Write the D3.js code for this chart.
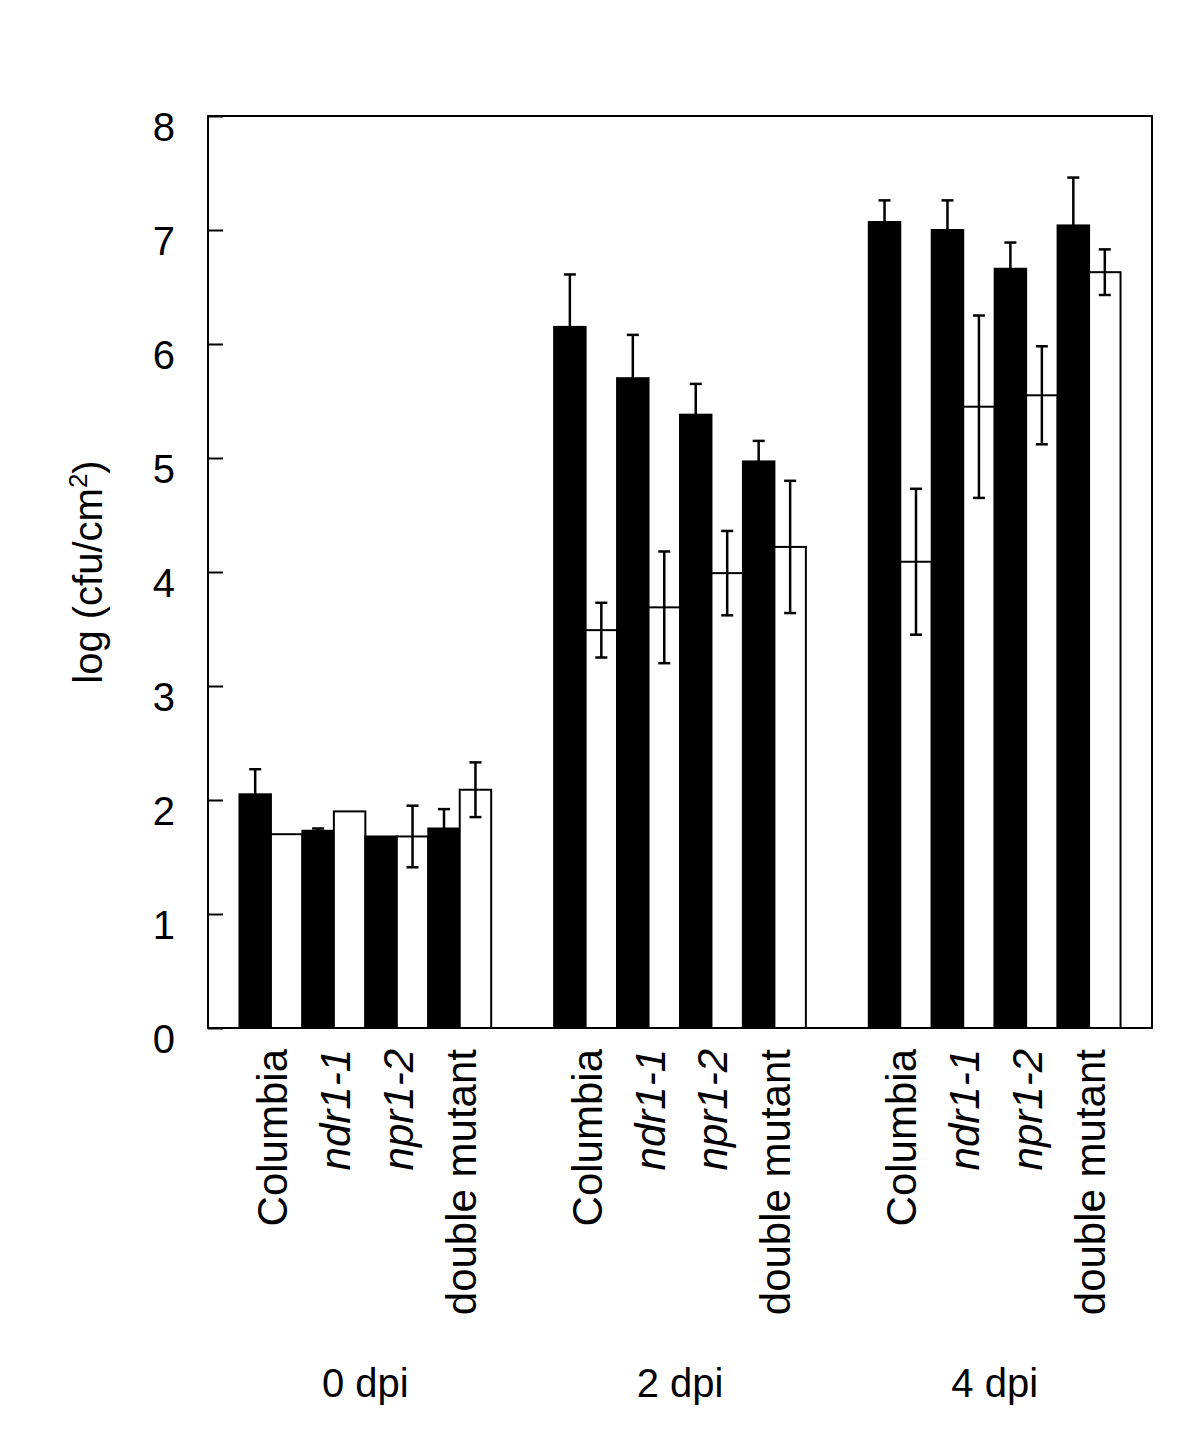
<!DOCTYPE html>
<html>
<head>
<meta charset="utf-8">
<script src="https://cdn.jsdelivr.net/npm/d3@7"></script>
<style>
  body { margin: 0; background: #fff; }
  text { font-family: "Liberation Sans", Arial, sans-serif; fill: #000; }
</style>
</head>
<body>
<div id="chart"></div>
<script>
// data
var times = ["0 dpi", "2 dpi", "4 dpi"];
var genotypes = ["Columbia", "ndr1-1", "npr1-2", "double mutant"];
var italicNames = ["ndr1-1", "npr1-2"];
// filled bars
var blackMeans = [[2.05, 1.73, 1.68, 1.75], [6.15, 5.70, 5.38, 4.97], [7.07, 7.00, 6.66, 7.04]];
var blackErr   = [[0.22, 0.02, 0.00, 0.17], [0.46, 0.38, 0.27, 0.18], [0.19, 0.26, 0.23, 0.42]];
// open bars
var whiteMeans = [[1.70, 1.90, 1.68, 2.09], [3.49, 3.69, 3.99, 4.22], [4.09, 5.45, 5.55, 6.63]];
var whiteErr   = [[0.00, 0.00, 0.27, 0.24], [0.24, 0.49, 0.37, 0.58], [0.64, 0.80, 0.43, 0.20]];
var yTicks = [0, 1, 2, 3, 4, 5, 6, 7, 8];

var W = 1197, H = 1456;
var margin = {top: 116, right: 45, bottom: 428, left: 208},
    w = W - margin.left - margin.right,
    h = H - margin.top - margin.bottom;

var svg = d3.select("#chart").append("svg")
  .attr("width", W)
  .attr("height", H);
var g = svg.append("g").attr("transform", "translate(" + margin.left + "," + margin.top + ")");

var x0 = d3.scaleBand().domain(times).range([0, w]).padding(0);
var barKeys = [];
genotypes.forEach(function(gt) { barKeys.push(gt + "|b"); barKeys.push(gt + "|w"); });
var x1 = d3.scaleBand().domain(barKeys).range([0, x0.bandwidth()])
  .paddingInner(0).paddingOuter(1);
var y = d3.scaleLinear().domain([0, 8]).range([h, 0]);

// flatten into rows
var rows = [];
times.forEach(function(t, ti) {
  genotypes.forEach(function(gt, gi) {
    rows.push({t: t, key: gt + "|b", v: blackMeans[ti][gi], e: blackErr[ti][gi], fill: "#000"});
    rows.push({t: t, key: gt + "|w", v: whiteMeans[ti][gi], e: whiteErr[ti][gi], fill: "#fff"});
  });
});

g.selectAll("rect.bar")
  .data(rows)
  .enter()
  .append("rect")
  .attr("class", "bar")
  .attr("x", function(d) { return x0(d.t) + x1(d.key); })
  .attr("y", function(d) { return y(d.v); })
  .attr("width", x1.bandwidth())
  .attr("height", function(d) { return y(0) - y(d.v); })
  .attr("fill", function(d) { return d.fill; })
  .attr("stroke", "#000")
  .attr("stroke-width", 2);

// error bars
var capW = 6;
var eb = g.selectAll("g.err")
  .data(rows.filter(function(d) { return d.e > 0; }))
  .enter()
  .append("g")
  .attr("class", "err")
  .attr("stroke", "#000")
  .attr("stroke-width", 2.5);
function cx(d) { return x0(d.t) + x1(d.key) + x1.bandwidth() / 2; }
eb.append("line")
  .attr("x1", cx).attr("x2", cx)
  .attr("y1", function(d) { return y(d.v - d.e); })
  .attr("y2", function(d) { return y(d.v + d.e); });
eb.append("line")
  .attr("x1", function(d) { return cx(d) - capW; })
  .attr("x2", function(d) { return cx(d) + capW; })
  .attr("y1", function(d) { return y(d.v + d.e); })
  .attr("y2", function(d) { return y(d.v + d.e); });
eb.append("line")
  .attr("x1", function(d) { return cx(d) - capW; })
  .attr("x2", function(d) { return cx(d) + capW; })
  .attr("y1", function(d) { return y(d.v - d.e); })
  .attr("y2", function(d) { return y(d.v - d.e); });

// y axis, ticks pointing inward
var yAxis = g.append("g")
  .call(d3.axisLeft(y).tickValues(yTicks).tickFormat(d3.format("d"))
    .tickSizeInner(-15).tickSizeOuter(0).tickPadding(33));
yAxis.select(".domain").remove();
yAxis.selectAll("line").attr("stroke", "#000").attr("stroke-width", 2);
yAxis.selectAll("text")
  .attr("font-size", "40px")
  .attr("font-family", "Liberation Sans, Arial, sans-serif")
  .attr("dy", "0.62em");

// frame
g.append("rect")
  .attr("x", 0).attr("y", 0)
  .attr("width", w).attr("height", h)
  .attr("fill", "none")
  .attr("stroke", "#000")
  .attr("stroke-width", 2);

// y label
var yl = svg.append("text")
  .attr("transform", "translate(102," + (margin.top + h / 2) + ") rotate(-90)")
  .attr("text-anchor", "middle")
  .attr("font-size", "40px");
yl.append("tspan").text("log (cfu/cm");
yl.append("tspan").text("2").attr("font-size", "26px").attr("dy", "-15");
yl.append("tspan").text(")").attr("dy", "15");

// genotype labels, rotated
var labels = [];
times.forEach(function(t) {
  genotypes.forEach(function(gt) { labels.push({t: t, gt: gt}); });
});
g.selectAll("text.cat")
  .data(labels)
  .enter()
  .append("text")
  .attr("class", "cat")
  .attr("transform", function(d) {
    var px = x0(d.t) + x1(d.gt + "|w");
    return "translate(" + px + "," + (h + 21) + ") rotate(-90)";
  })
  .attr("text-anchor", "end")
  .attr("dy", "0.38em")
  .attr("font-size", "42px")
  .attr("font-style", function(d) { return italicNames.indexOf(d.gt) >= 0 ? "italic" : "normal"; })
  .text(function(d) { return d.gt; });

// time labels
g.selectAll("text.time")
  .data(times)
  .enter()
  .append("text")
  .attr("class", "time")
  .attr("x", function(d) { return x0(d) + x0.bandwidth() / 2; })
  .attr("y", 1397 - margin.top)
  .attr("text-anchor", "middle")
  .attr("font-size", "40px")
  .text(function(d) { return d; });
</script>
</body>
</html>
